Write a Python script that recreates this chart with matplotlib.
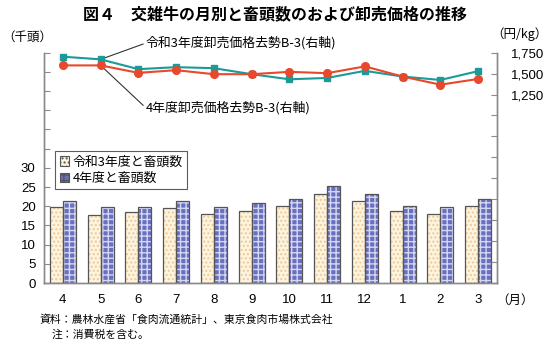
import matplotlib
matplotlib.use("Agg")
import matplotlib.pyplot as plt
import numpy as np
from matplotlib.patches import Patch

plt.rcParams["font.family"] = ["Liberation Sans", "Noto Sans CJK JP", "DejaVu Sans"]
JP = ["Noto Sans CJK JP", "DejaVu Sans"]

months = ["4", "5", "6", "7", "8", "9", "10", "11", "12", "1", "2", "3"]

# slaughter heads (thousand head), left axis
heads_r3 = [19.9, 17.7, 18.4, 19.5, 18.0, 18.8, 20.1, 23.2, 21.4, 18.8, 17.9, 20.1]
heads_r4 = [21.4, 19.7, 19.9, 21.4, 19.7, 20.8, 21.9, 25.3, 23.1, 20.1, 19.7, 21.9]

# wholesale price, steer B-3 (yen/kg), right axis
price_r3 = [1702, 1670, 1553, 1577, 1565, 1493, 1432, 1448, 1533, 1465, 1424, 1529]
price_r4 = [1598, 1598, 1509, 1541, 1493, 1493, 1521, 1505, 1586, 1465, 1368, 1436]

left_ticks = np.arange(0, 61, 5)
left_labels = ["0", "5", "10", "15", "20", "25", "30"]
right_ticks = np.arange(-1000, 1751, 250)
right_labels = ["1,250", "1,500", "1,750"]

GREEN = "#1b9a98"
RED = "#e8482c"
SPINE = "#8a8a8a"

fig = plt.figure(figsize=(5.5, 3.42), dpi=100)
ax = fig.add_axes([0.08, 0.1725, 0.8236, 0.6735])
ax2 = ax.twinx()

x = np.arange(len(months))
w = 0.345

# bars: fill with hatch, then a separate outline pass
ax.bar(x - w / 2, heads_r3, w, facecolor="#fdf4de", edgecolor="#efc99a",
       hatch="....", linewidth=0, zorder=2)
ax.bar(x - w / 2, heads_r3, w, fill=False, edgecolor="#555555", linewidth=0.9, zorder=3)
ax.bar(x + w / 2, heads_r4, w, facecolor="#6a70c0", edgecolor="#d4d7f2",
       hatch="+++", linewidth=0, zorder=2)
ax.bar(x + w / 2, heads_r4, w, fill=False, edgecolor="#555555", linewidth=0.9, zorder=3)

ax2.plot(x, price_r3, color=GREEN, linewidth=1.5, marker="s", markersize=5, zorder=4)
ax2.plot(x, price_r4, color=RED, linewidth=1.5, marker="o", markersize=5.5, zorder=4)

ax.set_xlim(-0.5, len(months) - 0.5)
ax.set_ylim(0, 60)
ax2.set_ylim(-1000, 1750)

ax.set_yticks(left_ticks)
ax.set_yticklabels(left_labels + [""] * (len(left_ticks) - len(left_labels)))
ax2.set_yticks(right_ticks)
ax2.set_yticklabels([""] * (len(right_ticks) - len(right_labels)) + right_labels)

ax.set_xticks(x)
ax.set_xticklabels(months)
ax.tick_params(axis="x", length=0, labelsize=9.5, pad=8)
ax.tick_params(axis="y", direction="in", length=4, color=SPINE, labelsize=9.5, pad=6)
ax2.tick_params(axis="y", direction="in", length=4, color=SPINE, labelsize=9.5, pad=10)

for a in (ax, ax2):
    a.spines["top"].set_visible(False)
    for s in ("left", "right", "bottom"):
        a.spines[s].set_color(SPINE)
        a.spines[s].set_linewidth(1.0)

# series callouts pointing at the May points
ax2.annotate("令和3年度卸売価格去勢B-3(右軸)", xy=(x[1], price_r3[1]),
             xytext=(146, 342 - 43), textcoords="figure pixels",
             fontsize=9.3, family=JP, va="center", ha="left",
             arrowprops=dict(arrowstyle="-", color="#333333", lw=0.8,
                             shrinkA=0, shrinkB=0, relpos=(0, 0.5)))
ax2.annotate("4年度卸売価格去勢B-3(右軸)", xy=(x[1], price_r4[1]),
             xytext=(146, 342 - 108), textcoords="figure pixels",
             fontsize=9.3, family=JP, va="center", ha="left",
             arrowprops=dict(arrowstyle="-", color="#333333", lw=0.8,
                             shrinkA=0, shrinkB=0, relpos=(0, 0.5)))

handles = [
    Patch(facecolor="#fdf4de", edgecolor="#555555", hatch="....", linewidth=0.8),
    Patch(facecolor="#6a70c0", edgecolor="#555555", hatch="+++", linewidth=0.8),
]
leg = fig.legend(handles, ["令和3年度と畜頭数", "4年度と畜頭数"],
                 loc="upper left", bbox_to_anchor=(55 / 550, 1 - 151 / 342),
                 borderaxespad=0,
                 prop={"family": JP, "size": 9.3}, frameon=True, fancybox=False,
                 edgecolor="#333333", handlelength=0.7, handleheight=0.7,
                 handletextpad=0.3, borderpad=0.35, labelspacing=0.25)
leg.get_frame().set_linewidth(0.8)

fig.text(0.5, 1 - 14 / 342, "図４　交雑牛の月別と畜頭数のおよび卸売価格の推移",
         ha="center", va="center", fontsize=11.5, fontweight="bold", family=JP)
fig.text(2 / 550, 1 - 37 / 342, "（千頭）", ha="left", va="center",
         fontsize=9, family=JP)
fig.text(548 / 550, 1 - 34 / 342, "（円/kg）", ha="right", va="center",
         fontsize=9, family=JP)
fig.text(496 / 550, 1 - 300 / 342, "（月）", ha="left", va="center",
         fontsize=9, family=JP)
fig.text(40 / 550, 1 - 319 / 342, "資料：農林水産省「食肉流通統計」、東京食肉市場株式会社",
         ha="left", va="center", fontsize=7.8, family=JP)
fig.text(52 / 550, 1 - 335 / 342, "注：消費税を含む。",
         ha="left", va="center", fontsize=7.8, family=JP)

fig.savefig("out.png", dpi=100)
